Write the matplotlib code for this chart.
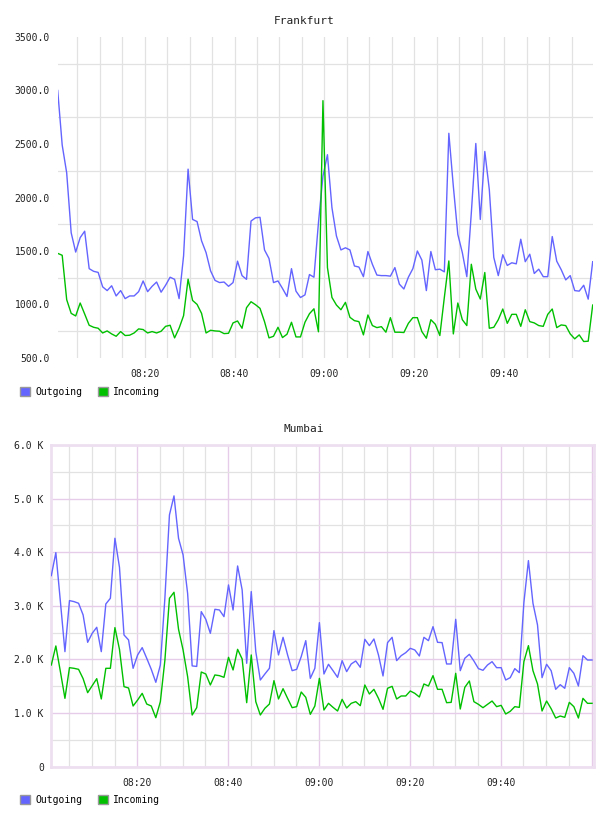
import matplotlib
matplotlib.use("Agg")
import matplotlib.pyplot as plt
import matplotlib.dates as mdates
from matplotlib.ticker import FixedLocator, FuncFormatter
from matplotlib.patches import Patch
import pandas as pd

# ---------------- data ----------------
series_names = ["Outgoing", "Incoming"]
series_colors = ["#6464ff", "#00c000"]

frankfurt_start = "2024-01-01 08:00:40"
mumbai_start = "2024-01-01 08:01:05"
n_points = 120
time_labels = ["08:20", "08:40", "09:00", "09:20", "09:40"]

frankfurt_out = [3000, 2490, 2230, 1670, 1490, 1625, 1685, 1335, 1310, 1300, 1165, 1130, 1175, 1080, 1130,
                 1055, 1080, 1080, 1120, 1220, 1120, 1170, 1210, 1115, 1180, 1255, 1235, 1055, 1455, 2265,
                 1795, 1775, 1595, 1485, 1315, 1225, 1205, 1210, 1170, 1205, 1405, 1270, 1235, 1780, 1810,
                 1815, 1510, 1430, 1205, 1220, 1150, 1075, 1335, 1125, 1065, 1090, 1280, 1255, 1765, 2200,
                 2400, 1905, 1640, 1510, 1530, 1510, 1360, 1350, 1260, 1495, 1375, 1275, 1270, 1270, 1265,
                 1345, 1190, 1145, 1255, 1335, 1500, 1415, 1130, 1495, 1325, 1330, 1305, 2600, 2105, 1655,
                 1485, 1260, 1855, 2505, 1795, 2430, 2075, 1440, 1270, 1465, 1365, 1390, 1380, 1610, 1400,
                 1470, 1290, 1330, 1260, 1260, 1635, 1405, 1325, 1230, 1270, 1130, 1125, 1180, 1050, 1400]
frankfurt_in = [1478, 1460, 1045, 917, 893, 1014, 911, 806, 787, 778, 734, 753, 725, 703, 747,
                710, 713, 734, 772, 766, 734, 747, 734, 750, 796, 806, 688, 778, 896, 1237,
                1038, 1001, 917, 734, 759, 753, 750, 728, 731, 828, 846, 778, 970, 1026, 998,
                964, 840, 688, 703, 787, 691, 722, 834, 697, 697, 834, 914, 960, 745, 2905,
                1345, 1066, 995, 951, 1020, 880, 849, 840, 716, 902, 803, 784, 793, 741, 877,
                741, 741, 738, 824, 877, 877, 747, 685, 858, 815, 710, 1066, 1407, 725, 1014,
                858, 803, 1376, 1144, 1051, 1299, 778, 787, 858, 958, 824, 908, 908, 796, 951,
                840, 828, 803, 796, 908, 958, 784, 809, 803, 725, 679, 716, 654, 657, 995]
mumbai_out = [3564, 3993, 3080, 2146, 3098, 3079, 3048, 2830, 2320, 2488, 2600, 2146, 3035, 3141, 4261,
              3720, 2457, 2364, 1835, 2084, 2221, 2022, 1816, 1574, 1897, 3150, 4696, 5051, 4260, 3950,
              3230, 1880, 1870, 2892, 2749, 2488, 2936, 2923, 2799, 3390, 2923, 3744, 3297, 1928, 3266,
              2146, 1617, 1729, 1835, 2538, 2084, 2413, 2084, 1791, 1816, 2053, 2351, 1648, 1835, 2687,
              1729, 1910, 1791, 1667, 1978, 1773, 1916, 1972, 1854, 2376, 2258, 2382, 2084, 1692, 2314,
              2413, 1978, 2071, 2127, 2208, 2177, 2065, 2413, 2351, 2612, 2320, 2314, 1916, 1916, 2749,
              1791, 2022, 2096, 1972, 1829, 1798, 1897, 1959, 1847, 1847, 1617, 1661, 1829, 1754, 3060,
              3844, 3048, 2644, 1661, 1910, 1791, 1443, 1530, 1462, 1847, 1742, 1505, 2071, 1990, 1990]
mumbai_in = [1897, 2252, 1773, 1275, 1847, 1835, 1816, 1642, 1381, 1511, 1642, 1263, 1835, 1835, 2594,
             2189, 1493, 1468, 1132, 1244, 1368, 1169, 1132, 914, 1213, 1990, 3141, 3253, 2563, 2177,
             1679, 964, 1101, 1766, 1729, 1524, 1711, 1698, 1667, 2040, 1804, 2189, 2009, 1194, 2084,
             1213, 964, 1089, 1169, 1605, 1263, 1455, 1275, 1101, 1120, 1393, 1294, 977, 1132, 1648,
             1057, 1182, 1107, 1039, 1256, 1095, 1182, 1213, 1138, 1524, 1356, 1443, 1275, 1070, 1462,
             1499, 1263, 1319, 1319, 1412, 1368, 1300, 1543, 1505, 1698, 1443, 1443, 1194, 1200, 1742,
             1076, 1480, 1599, 1213, 1163, 1101, 1163, 1225, 1120, 1144, 983, 1033, 1120, 1107, 1959,
             2258, 1791, 1543, 1039, 1225, 1082, 908, 945, 921, 1200, 1120, 908, 1275, 1182, 1182]

frankfurt_yticks = [500, 1000, 1500, 2000, 2500, 3000, 3500]
frankfurt_ygrid = [750, 1250, 1750, 2250, 2750, 3250]
mumbai_yticks = [0, 1000, 2000, 3000, 4000, 5000, 6000]
mumbai_ygrid_minor = [500, 1500, 2500, 3500, 4500, 5500]

# ---------------- figure ----------------
W, H = 608, 816
fig = plt.figure(figsize=(W / 100, H / 100), dpi=100)
MONO = "DejaVu Sans Mono"
GRAY = "#e2e2e2"
PURPLE = "#e6cce8"
TXT = "#222222"


def ax_rect(l, t, r, b):
    return [l / W, 1 - b / H, (r - l) / W, (b - t) / H]


def time_fmt(v, p):
    s = mdates.num2date(v).strftime("%H:%M")
    return s if s in time_labels else ""


ft = pd.date_range(frankfurt_start, periods=n_points, freq="60s")
mt = pd.date_range(mumbai_start, periods=n_points, freq="60s")

# --- Frankfurt ---
ax1 = fig.add_axes(ax_rect(57.7, 37, 592.7, 358))
ax1.plot(ft, frankfurt_out, color=series_colors[0], lw=1.0, zorder=3)
ax1.plot(ft, frankfurt_in, color=series_colors[1], lw=1.0, zorder=4)
ax1.set_xlim(ft[0], ft[-1])
ax1.set_ylim(500, 3500)
ax1.yaxis.set_major_locator(FixedLocator(frankfurt_yticks))
ax1.yaxis.set_major_formatter(FuncFormatter(lambda v, p: f"{v:.1f}"))
ax1.yaxis.set_minor_locator(FixedLocator(frankfurt_ygrid))
ax1.xaxis.set_major_locator(mdates.MinuteLocator(byminute=[0, 20, 40]))
ax1.xaxis.set_minor_locator(mdates.MinuteLocator(byminute=range(0, 60, 5)))
ax1.xaxis.set_major_formatter(FuncFormatter(time_fmt))
ax1.grid(False)
ax1.grid(which="minor", axis="y", color=GRAY, lw=0.9)
ax1.grid(which="both", axis="x", color=GRAY, lw=0.9)
for s in ax1.spines.values():
    s.set_visible(False)
ax1.tick_params(which="both", length=0)
ax1.tick_params(axis="y", pad=5.5, labelsize=7, labelcolor=TXT)
ax1.tick_params(axis="x", pad=8, labelsize=7, labelcolor=TXT)
for lab in ax1.get_xticklabels() + ax1.get_yticklabels():
    lab.set_family(MONO)
ax1.set_axisbelow(True)

# --- Mumbai ---
ax2 = fig.add_axes(ax_rect(50.7, 445, 593.7, 766.7))
ax2.plot(mt, mumbai_out, color=series_colors[0], lw=1.0, zorder=3)
ax2.plot(mt, mumbai_in, color=series_colors[1], lw=1.0, zorder=4)
ax2.set_xlim(mt[0] - pd.Timedelta(seconds=8), mt[-1] + pd.Timedelta(seconds=22))
ax2.set_ylim(0, 6000)
ax2.yaxis.set_major_locator(FixedLocator(mumbai_yticks))
ax2.yaxis.set_major_formatter(FuncFormatter(lambda v, p: "0" if v == 0 else f"{v / 1000:.1f} K"))
ax2.yaxis.set_minor_locator(FixedLocator(mumbai_ygrid_minor))
ax2.xaxis.set_major_locator(mdates.MinuteLocator(byminute=[0, 20, 40]))
ax2.xaxis.set_minor_locator(mdates.MinuteLocator(byminute=range(0, 60, 5)))
ax2.xaxis.set_major_formatter(FuncFormatter(time_fmt))
ax2.grid(which="major", color=PURPLE, lw=1.0)
ax2.grid(which="minor", color=GRAY, lw=0.9)
for s in ax2.spines.values():
    s.set_color("#eedff0")
    s.set_linewidth(2.0)
ax2.tick_params(which="both", length=0)
ax2.tick_params(axis="y", pad=5, labelsize=7, labelcolor=TXT)
ax2.tick_params(axis="x", pad=8, labelsize=7, labelcolor=TXT)
for lab in ax2.get_xticklabels() + ax2.get_yticklabels():
    lab.set_family(MONO)
ax2.set_axisbelow(True)

# titles
fig.text(304 / W, 1 - 20.5 / H, "Frankfurt", ha="center", va="center", family=MONO, fontsize=8, color=TXT)
fig.text(304 / W, 1 - 428.5 / H, "Mumbai", ha="center", va="center", family=MONO, fontsize=8, color=TXT)

# legends
handles = [Patch(facecolor=c, edgecolor="#999999", linewidth=1.0) for c in series_colors]
for ycen in (392, 800):
    fig.legend(handles, series_names, loc="center left", bbox_to_anchor=(20 / W, 1 - ycen / H),
               ncol=2, frameon=False, handlelength=1.05, handleheight=1.05, handletextpad=0.5,
               columnspacing=1.6, borderaxespad=0, borderpad=0,
               prop={"family": MONO, "size": 7})

fig.savefig("out.png", dpi=100, facecolor="white")
